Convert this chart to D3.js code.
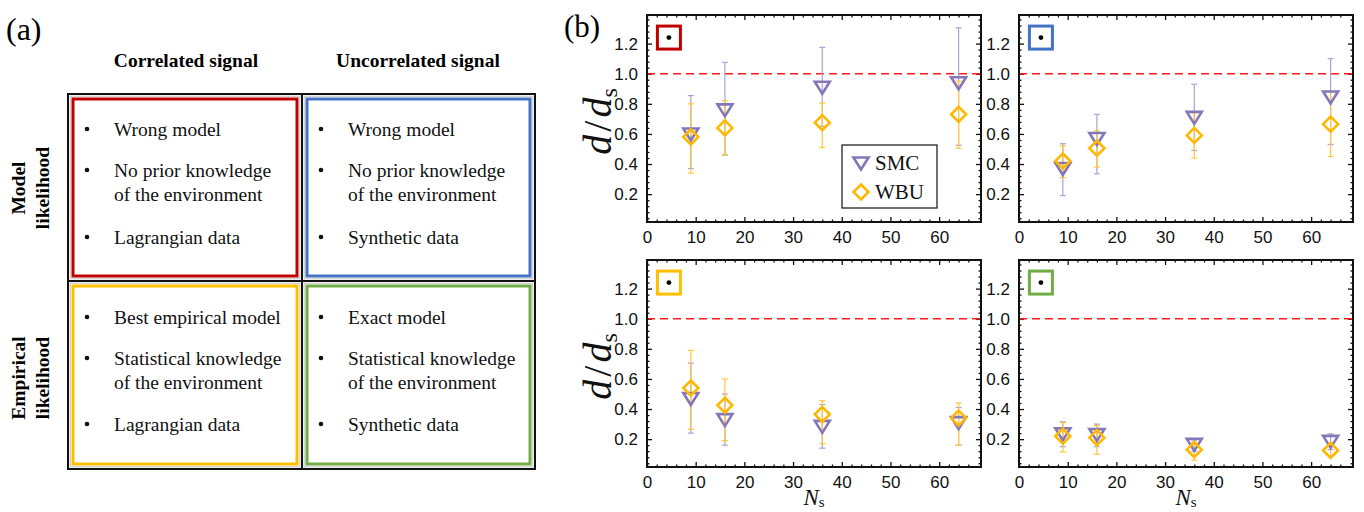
<!DOCTYPE html>
<html>
<head>
<meta charset="utf-8">
<script src="https://cdn.jsdelivr.net/npm/d3@7"></script>
<style>
  html, body { margin: 0; padding: 0; background: #fff; }
  svg { display: block; }
  .tick text { font-family: "Liberation Sans", Arial, sans-serif; font-size: 17px; fill: #111; }
  .serif { font-family: "Liberation Serif", "DejaVu Serif", serif; }
</style>
</head>
<body>
<div id="root"></div>
<script>
// ---- panel (a) table content ----
const colHeaders = ['Correlated signal', 'Uncorrelated signal'];
const rowHeaders = [['Model', 'likelihood'], ['Empirical', 'likelihood']];
const cellItems = [
  [['Wrong model'], ['No prior knowledge', 'of the environment'], ['Lagrangian data']],
  [['Wrong model'], ['No prior knowledge', 'of the environment'], ['Synthetic data']],
  [['Best empirical model'], ['Statistical knowledge', 'of the environment'], ['Lagrangian data']],
  [['Exact model'], ['Statistical knowledge', 'of the environment'], ['Synthetic data']]
];
const panelColors = ['#c00000', '#4472c4', '#ffc000', '#70ad47'];

// ---- panel (b) data: d/d_s vs N_s ----
const ns = [9, 16, 36, 64];
const smcMean = [[0.60, 0.76, 0.91, 0.94], [0.37, 0.57, 0.71, 0.845], [0.47, 0.33, 0.285, 0.31], [0.235, 0.23, 0.165, 0.185]];
const smcLow  = [[0.37, 0.46, 0.65, 0.525], [0.19, 0.335, 0.49, 0.53], [0.24, 0.16, 0.14, 0.16], [0.15, 0.15, 0.12, 0.13]];
const smcHigh = [[0.855, 1.075, 1.175, 1.305], [0.535, 0.73, 0.93, 1.10], [0.705, 0.50, 0.43, 0.41], [0.315, 0.30, 0.195, 0.235]];
const wbuMean = [[0.58, 0.64, 0.675, 0.73], [0.42, 0.505, 0.59, 0.665], [0.54, 0.425, 0.365, 0.34], [0.22, 0.21, 0.13, 0.125]];
const wbuLow  = [[0.34, 0.46, 0.51, 0.505], [0.31, 0.38, 0.44, 0.45], [0.265, 0.19, 0.17, 0.16], [0.115, 0.10, 0.06, 0.09]];
const wbuHigh = [[0.80, 0.82, 0.805, 0.95], [0.52, 0.62, 0.74, 0.88], [0.79, 0.60, 0.455, 0.44], [0.31, 0.29, 0.18, 0.17]];
const xTicks = [0, 10, 20, 30, 40, 50, 60];
const yTicks = [0.2, 0.4, 0.6, 0.8, 1.0, 1.2];

const smcColor = '#8477b8';
const smcBarColor = '#aaa2d4';
const wbuColor = '#ffb800';
const wbuBarColor = '#ffc73a';

const svg = d3.select('#root').append('svg')
  .attr('width', 1364)
  .attr('height', 512);

// ===================== panel (a) =====================
const table = {left: 68, right: 535, top: 94, bottom: 469, midX: 302, midY: 281};

svg.append('text').attr('class', 'serif')
  .attr('x', 6).attr('y', 40)
  .attr('font-size', 32)
  .text('(a)');

[186, 418].forEach((cx, i) => {
  svg.append('text').attr('class', 'serif')
    .attr('x', cx).attr('y', 67)
    .attr('text-anchor', 'middle')
    .attr('font-size', 19.5).attr('font-weight', 'bold')
    .text(colHeaders[i]);
});

[188, 378].forEach((cy, i) => {
  const t = svg.append('text').attr('class', 'serif')
    .attr('transform', `translate(0,${cy}) rotate(-90)`)
    .attr('text-anchor', 'middle')
    .attr('font-size', 19.5).attr('font-weight', 'bold');
  t.append('tspan').attr('x', 0).attr('y', 25).text(rowHeaders[i][0]);
  t.append('tspan').attr('x', 0).attr('y', 49).text(rowHeaders[i][1]);
});

const cellRects = [
  {x0: table.left, x1: table.midX, y0: table.top, y1: table.midY},
  {x0: table.midX, x1: table.right, y0: table.top, y1: table.midY},
  {x0: table.left, x1: table.midX, y0: table.midY, y1: table.bottom},
  {x0: table.midX, x1: table.right, y0: table.midY, y1: table.bottom}
];
const itemY = [[130, 171, 238], [318, 359, 425]];

cellRects.forEach((c, i) => {
  svg.append('rect')
    .attr('x', c.x0 + 2.2).attr('y', c.y0 + 2.2)
    .attr('width', c.x1 - c.x0 - 4.4).attr('height', c.y1 - c.y0 - 4.4)
    .attr('fill', 'none').attr('stroke', '#c4c4c4').attr('stroke-width', 1);
  svg.append('rect')
    .attr('x', c.x0 + 5).attr('y', c.y0 + 5)
    .attr('width', c.x1 - c.x0 - 10).attr('height', c.y1 - c.y0 - 10)
    .attr('fill', 'none').attr('stroke', panelColors[i]).attr('stroke-width', 3);

  const rowY = itemY[Math.floor(i / 2)];
  cellItems[i].forEach((lines, k) => {
    svg.append('circle')
      .attr('cx', c.x0 + 19).attr('cy', rowY[k] - 1)
      .attr('r', 2.3).attr('fill', '#111');
    lines.forEach((line, j) => {
      svg.append('text').attr('class', 'serif')
        .attr('x', c.x0 + 46).attr('y', rowY[k] + 6 + j * 24)
        .attr('font-size', 19.5).attr('fill', '#111')
        .text(line);
    });
  });
});

svg.append('rect')
  .attr('x', table.left).attr('y', table.top)
  .attr('width', table.right - table.left).attr('height', table.bottom - table.top)
  .attr('fill', 'none').attr('stroke', '#111').attr('stroke-width', 2);
svg.append('line')
  .attr('x1', table.midX).attr('x2', table.midX).attr('y1', table.top).attr('y2', table.bottom)
  .attr('stroke', '#111').attr('stroke-width', 2);
svg.append('line')
  .attr('x1', table.left).attr('x2', table.right).attr('y1', table.midY).attr('y2', table.midY)
  .attr('stroke', '#111').attr('stroke-width', 2);

// ===================== panel (b) =====================
svg.append('text').attr('class', 'serif')
  .attr('x', 564).attr('y', 37)
  .attr('font-size', 31)
  .text('(b)');

const cols = [{x0: 647, x1: 981}, {x0: 1019, x1: 1353}];
const rows = [{y0: 15, y1: 222}, {y0: 260, y1: 467}];

const triPath = 'M-7.5,-5.5 L7.5,-5.5 L0,6.5 Z';
const diaPath = 'M0,-7.5 L7.5,0 L0,7.5 L-7.5,0 Z';

function drawPanel(p) {
  const col = cols[p % 2];
  const row = rows[Math.floor(p / 2)];
  const w = col.x1 - col.x0;
  const h = row.y1 - row.y0;

  const g = svg.append('g').attr('transform', `translate(${col.x0},${row.y0})`);

  const x = d3.scaleLinear().domain([0, 68.6]).range([0, w]);
  const y = d3.scaleLinear().domain([0.015, 1.39]).range([h, 0]);

  const minorX = d3.range(2, 68, 2).filter(v => v % 10 !== 0);
  const minorY = d3.range(0.04, 1.38, 0.04).filter(v => Math.abs(v * 5 - Math.round(v * 5)) > 1e-6);

  // ticks (inward, on all four sides)
  const axes = [
    {ax: d3.axisBottom(x), tr: `translate(0,${h})`, labels: true, vals: xTicks, minor: minorX},
    {ax: d3.axisTop(x), tr: 'translate(0,0)', labels: false, vals: xTicks, minor: minorX},
    {ax: d3.axisLeft(y), tr: 'translate(0,0)', labels: true, vals: yTicks, minor: minorY},
    {ax: d3.axisRight(y), tr: `translate(${w},0)`, labels: false, vals: yTicks, minor: minorY}
  ];
  axes.forEach(a => {
    const major = g.append('g').attr('transform', a.tr)
      .call(a.ax.tickValues(a.vals).tickSizeInner(-5).tickSizeOuter(0).tickPadding(9)
        .tickFormat(a.labels ? (a.vals === yTicks ? d3.format('.1f') : d3.format('d')) : ''));
    major.select('.domain').remove();
    major.selectAll('line').attr('stroke', '#111').attr('stroke-width', 1.3);
    const minor = g.append('g').attr('transform', a.tr)
      .call(a.ax.tickValues(a.minor).tickSizeInner(-2.5).tickFormat(''));
    minor.select('.domain').remove();
    minor.selectAll('line').attr('stroke', '#111').attr('stroke-width', 1.3);
  });
  g.selectAll('.tick text').attr('fill', '#111');

  // reference line d = d_s
  g.append('line')
    .attr('x1', 0).attr('x2', w)
    .attr('y1', y(1)).attr('y2', y(1))
    .attr('stroke', '#ff1a1a').attr('stroke-width', 1.6)
    .attr('stroke-dasharray', '8,5');

  // error bars
  const series = [
    {mean: smcMean[p], low: smcLow[p], high: smcHigh[p], bar: smcBarColor, color: smcColor, path: triPath},
    {mean: wbuMean[p], low: wbuLow[p], high: wbuHigh[p], bar: wbuBarColor, color: wbuColor, path: diaPath}
  ];
  series.forEach(s => {
    const pts = ns.map((n, i) => ({n, m: s.mean[i], lo: s.low[i], hi: s.high[i]}));
    const eb = g.append('g');
    eb.selectAll('line.v').data(pts).enter().append('line')
      .attr('x1', d => x(d.n)).attr('x2', d => x(d.n))
      .attr('y1', d => y(d.lo)).attr('y2', d => y(d.hi))
      .attr('stroke', s.bar).attr('stroke-width', 1.2);
    ['lo', 'hi'].forEach(k => {
      eb.selectAll('line.' + k).data(pts).enter().append('line')
        .attr('x1', d => x(d.n) - 3).attr('x2', d => x(d.n) + 3)
        .attr('y1', d => y(d[k])).attr('y2', d => y(d[k]))
        .attr('stroke', s.bar).attr('stroke-width', 1.2);
    });
  });
  series.forEach(s => {
    g.selectAll(null).data(ns.map((n, i) => ({n, m: s.mean[i]}))).enter().append('path')
      .attr('d', s.path)
      .attr('transform', d => `translate(${x(d.n)},${y(d.m)})`)
      .attr('fill', 'none').attr('stroke', s.color).attr('stroke-width', 2.6)
      .attr('stroke-linejoin', 'miter');
  });

  // panel colour badge
  g.append('rect')
    .attr('x', x(4.5) - 11.5).attr('y', y(1.24) - 11.5)
    .attr('width', 23).attr('height', 23)
    .attr('fill', 'none').attr('stroke', panelColors[p]).attr('stroke-width', 3);
  g.append('circle')
    .attr('cx', x(4.5)).attr('cy', y(1.24)).attr('r', 2.4).attr('fill', '#000');

  // frame
  g.append('rect')
    .attr('x', 0).attr('y', 0).attr('width', w).attr('height', h)
    .attr('fill', 'none').attr('stroke', '#111').attr('stroke-width', 2);

  // axis labels
  if (p % 2 === 0) {
    const lab = svg.append('text').attr('class', 'serif')
      .attr('transform', `translate(${col.x0 - 36},${row.y0 + h / 2 + 3}) rotate(-90)`)
      .attr('text-anchor', 'middle')
      .attr('font-size', 40).attr('fill', '#111');
    lab.append('tspan').attr('font-style', 'italic').text('d');
    lab.append('tspan').attr('dx', 3).text('/');
    lab.append('tspan').attr('dx', 3).attr('font-style', 'italic').text('d');
    lab.append('tspan').attr('font-size', 24).attr('dy', 6).text('s');
  }
  if (p >= 2) {
    const lab = svg.append('text').attr('class', 'serif')
      .attr('x', col.x0 + w / 2).attr('y', 505)
      .attr('text-anchor', 'middle')
      .attr('font-size', 23).attr('fill', '#111');
    lab.append('tspan').attr('font-style', 'italic').text('N');
    lab.append('tspan').attr('font-size', 15).attr('dy', 2).text('s');
  }

  return {x, y, g};
}

const panels = [0, 1, 2, 3].map(drawPanel);

// legend in first panel
const lg = svg.append('g').attr('transform', 'translate(842,145)');
lg.append('rect').attr('width', 95).attr('height', 63)
  .attr('fill', '#fff').attr('stroke', '#111').attr('stroke-width', 1.2);
const legendItems = [
  {label: 'SMC', path: triPath, color: smcColor},
  {label: 'WBU', path: diaPath, color: wbuColor}
];
legendItems.forEach((d, i) => {
  lg.append('path').attr('d', d.path)
    .attr('transform', `translate(19,${18 + i * 29})`)
    .attr('fill', 'none').attr('stroke', d.color).attr('stroke-width', 2.6);
  lg.append('text').attr('class', 'serif')
    .attr('x', 33).attr('y', 25 + i * 29)
    .attr('font-size', 21).attr('fill', '#111')
    .text(d.label);
});
</script>
</body>
</html>
